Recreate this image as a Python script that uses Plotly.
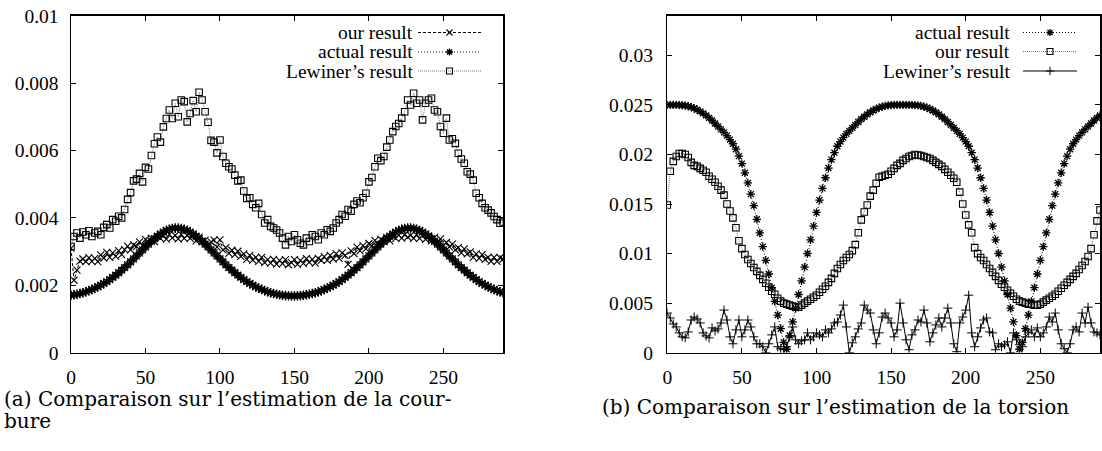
import plotly.graph_objects as go

# ---------------- data ----------------
x_left = list(range(0, 291, 2))
x_right = list(range(0, 291, 2))

x_tickvals = [0, 50, 100, 150, 200, 250]
x_ticktext = ["0", "50", "100", "150", "200", "250"]
yl_tickvals = [0, 0.002, 0.004, 0.006, 0.008, 0.01]
yl_ticktext = ["0", "0.002", "0.004", "0.006", "0.008", "0.01"]
yr_tickvals = [0, 0.005, 0.01, 0.015, 0.02, 0.025, 0.03]
yr_ticktext = ["0", "0.005", "0.01", "0.015", "0.02", "0.025", "0.03"]

# curvature (values in units of 1e-3)
kappa_actual_e3 = [
    1.705, 1.718, 1.735, 1.756, 1.779, 1.808, 1.840, 1.875, 1.914, 1.957,
    2.004, 2.055, 2.110, 2.169, 2.233, 2.300, 2.372, 2.448, 2.526, 2.609,
    2.694, 2.781, 2.870, 2.959, 3.049, 3.138, 3.224, 3.307, 3.385, 3.458,
    3.522, 3.579, 3.626, 3.662, 3.686, 3.698, 3.698, 3.686, 3.662, 3.626,
    3.579, 3.522, 3.458, 3.385, 3.307, 3.224, 3.138, 3.049, 2.959, 2.870,
    2.781, 2.694, 2.609, 2.526, 2.448, 2.372, 2.300, 2.233, 2.169, 2.110,
    2.055, 2.004, 1.957, 1.914, 1.875, 1.840, 1.808, 1.779, 1.756, 1.735,
    1.718, 1.705, 1.695, 1.688, 1.684, 1.684, 1.688, 1.695, 1.705, 1.718,
    1.735, 1.756, 1.779, 1.808, 1.840, 1.875, 1.914, 1.957, 2.004, 2.055,
    2.110, 2.169, 2.233, 2.300, 2.372, 2.448, 2.526, 2.609, 2.694, 2.781,
    2.870, 2.959, 3.049, 3.138, 3.224, 3.307, 3.385, 3.458, 3.522, 3.579,
    3.626, 3.662, 3.686, 3.698, 3.698, 3.686, 3.662, 3.626, 3.579, 3.522,
    3.458, 3.385, 3.307, 3.224, 3.138, 3.049, 2.959, 2.870, 2.781, 2.694,
    2.609, 2.526, 2.448, 2.372, 2.300, 2.233, 2.169, 2.110, 2.055, 2.004,
    1.957, 1.914, 1.875, 1.840, 1.808, 1.779,
]
kappa_ours_e3 = [
    3.10, 2.15, 2.45, 2.72, 2.78, 2.70, 2.82, 2.71, 2.80, 2.70,
    2.90, 2.81, 2.98, 2.83, 2.96, 2.86, 3.03, 2.91, 3.06, 3.16,
    3.05, 3.20, 3.15, 3.29, 3.18, 3.36, 3.28, 3.40, 3.30, 3.45,
    3.39, 3.47, 3.37, 3.51, 3.41, 3.48, 3.38, 3.51, 3.39, 3.48,
    3.39, 3.47, 3.32, 3.43, 3.29, 3.34, 3.21, 3.29, 3.34, 3.13,
    3.35, 3.05, 3.12, 2.95, 3.04, 2.91, 3.01, 2.86, 2.93, 2.77,
    2.89, 2.75, 2.83, 2.71, 2.83, 2.67, 2.76, 2.66, 2.77, 2.63,
    2.74, 2.64, 2.76, 2.61, 2.67, 2.76, 2.62, 2.74, 2.65, 2.79,
    2.68, 2.77, 2.66, 2.80, 2.74, 2.85, 2.74, 2.89, 2.78, 2.94,
    2.80, 2.96, 2.89, 2.62, 3.02, 2.94, 3.13, 3.02, 3.18, 3.08,
    3.24, 3.17, 3.33, 3.22, 3.37, 3.30, 3.42, 3.32, 3.46, 3.39,
    3.49, 3.40, 3.50, 3.43, 3.48, 3.39, 3.50, 3.39, 3.48, 3.36,
    3.46, 3.32, 3.42, 3.27, 3.38, 3.18, 3.27, 3.14, 3.22, 3.05,
    3.12, 2.96, 3.08, 2.93, 2.99, 2.83, 2.93, 2.80, 2.91, 2.77,
    2.83, 2.71, 2.83, 2.71, 2.82, 2.78,
]
kappa_lewiner_e3 = [
    3.15, 3.45, 3.55, 3.40, 3.58, 3.50, 3.62, 3.45, 3.55, 3.60,
    3.50, 3.72, 3.80, 3.70, 3.95, 3.90, 4.05, 4.00, 4.25, 4.55,
    4.75, 5.10, 5.15, 5.32, 5.07, 5.50, 5.45, 5.85, 6.20, 6.40,
    6.25, 6.70, 6.95, 7.20, 6.95, 7.40, 7.00, 7.50, 7.45, 6.85,
    7.10, 7.48, 7.15, 7.73, 7.50, 7.15, 6.84, 6.30, 6.25, 5.93,
    6.31, 5.82, 5.62, 5.52, 5.45, 5.27, 5.10, 5.12, 4.80, 4.58,
    4.60, 4.40, 4.30, 4.43, 4.10, 3.85, 3.95, 3.75, 3.70, 3.64,
    3.55, 3.40, 3.20, 3.45, 3.30, 3.50, 3.35, 3.25, 3.20, 3.40,
    3.30, 3.50, 3.45, 3.35, 3.55, 3.50, 3.65, 3.60, 3.70, 3.85,
    3.95, 4.10, 4.05, 4.25, 4.20, 4.40, 4.50, 4.45, 4.60, 4.73,
    5.07, 5.20, 5.52, 5.77, 5.70, 5.82, 6.10, 6.31, 6.56, 6.71,
    6.80, 6.96, 7.15, 7.50, 7.35, 7.70, 7.40, 7.50, 6.91, 7.40,
    7.50, 7.55, 7.20, 7.15, 6.71, 6.51, 6.96, 6.31, 6.35, 6.21,
    5.92, 5.75, 5.62, 5.37, 5.30, 5.12, 4.73, 4.60, 4.43, 4.30,
    4.23, 4.15, 4.04, 3.95, 3.84, 3.88,
]

# torsion (values in units of 1e-3)
tau_actual_e3 = [
    25.00, 25.00, 25.00, 25.00, 24.99, 24.96, 24.93, 24.86, 24.78, 24.66,
    24.51, 24.35, 24.15, 23.94, 23.69, 23.43, 23.13, 22.83, 22.53, 22.23,
    21.90, 21.50, 21.08, 20.53, 19.83, 19.08, 18.15, 17.13, 16.00, 14.84,
    13.46, 12.08, 10.70, 9.32, 7.94, 6.56, 5.18, 3.80, 2.42, 1.04,
    0.35, 1.73, 3.11, 4.49, 5.87, 7.25, 8.63, 10.01, 11.39, 12.77,
    14.15, 15.40, 16.58, 17.65, 18.63, 19.48, 20.18, 20.83, 21.30, 21.70,
    22.08, 22.38, 22.68, 22.98, 23.28, 23.56, 23.81, 24.05, 24.25, 24.44,
    24.59, 24.73, 24.82, 24.90, 24.95, 24.98, 25.00, 25.00, 25.00, 25.00,
    25.00, 25.00, 25.00, 24.98, 24.95, 24.90, 24.82, 24.73, 24.59, 24.44,
    24.25, 24.05, 23.81, 23.56, 23.28, 22.98, 22.68, 22.38, 22.08, 21.70,
    21.30, 20.83, 20.18, 19.48, 18.63, 17.65, 16.58, 15.40, 14.15, 12.77,
    11.39, 10.01, 8.63, 7.25, 5.87, 4.49, 3.11, 1.73, 0.35, 1.04,
    2.42, 3.80, 5.18, 6.56, 7.94, 9.32, 10.70, 12.08, 13.46, 14.84,
    16.00, 17.13, 18.15, 19.08, 19.83, 20.53, 21.08, 21.50, 21.90, 22.23,
    22.53, 22.83, 23.13, 23.43, 23.69, 23.94,
]
tau_ours_e3 = [
    14.9, 18.3, 19.3, 19.8, 20.1, 20.1, 20.0, 19.7, 19.2, 18.9,
    18.8, 18.6, 18.4, 18.2, 17.8, 17.5, 17.2, 16.8, 16.4, 15.9,
    15.0, 14.3, 13.6, 12.6, 11.3, 10.5, 9.9, 9.4, 9.0, 8.6,
    8.2, 7.8, 7.4, 7.0, 6.6, 6.2, 5.9, 5.5, 5.2, 5.0,
    4.9, 4.8, 4.7, 4.6, 4.6, 4.8, 5.0, 5.2, 5.4, 5.6,
    5.8, 6.1, 6.4, 6.7, 7.1, 7.5, 8.0, 8.5, 8.9, 9.3,
    9.6, 9.9, 10.3, 10.9, 12.1, 13.4, 14.2, 14.9, 15.8, 16.4,
    17.1, 17.7, 17.8, 17.9, 18.0, 18.3, 18.6, 18.9, 19.1, 19.4,
    19.6, 19.8, 19.9, 20.0, 19.95, 19.9, 19.8, 19.7, 19.6, 19.4,
    19.2, 19.0, 18.8, 18.5, 18.2, 17.9, 17.6, 17.2, 16.2, 15.0,
    13.9, 12.9, 12.1, 10.6, 10.0, 9.6, 9.3, 8.9, 8.5, 8.1,
    7.7, 7.3, 6.9, 6.6, 6.3, 6.0, 5.7, 5.4, 5.2, 5.1,
    5.0, 4.9, 4.9, 4.8, 4.8, 4.9, 5.1, 5.3, 5.5, 5.7,
    5.9, 6.2, 6.5, 6.8, 7.1, 7.4, 7.7, 8.0, 8.4, 8.8,
    9.2, 9.7, 10.5, 11.9, 13.3, 14.4,
]
tau_lewiner_e3 = [
    4.0, 3.5, 2.9, 2.6, 2.0, 1.6, 1.5, 2.1, 3.3, 3.6,
    3.4, 3.0, 2.0, 1.7, 1.5, 2.5, 2.2, 2.4, 3.0, 4.3,
    3.3, 1.6, 0.9, 2.3, 3.3, 1.6, 2.3, 3.3, 2.6, 1.6,
    0.9, 0.9, 0.6, 0.0, 0.9, 1.8, 2.6, 0.6, 0.4, 0.3,
    0.6, 1.6, 2.6, 1.3, 0.9, 1.2, 1.3, 2.0, 1.3, 1.6,
    2.0, 1.8, 1.6, 2.3, 2.0, 2.4, 3.0, 3.1, 3.8, 4.8,
    2.6, 0.0, 1.0, 1.6, 2.4, 3.0, 4.8, 4.3, 4.0, 2.3,
    0.9, 2.0, 3.6, 4.0, 3.5, 3.0, 1.6, 2.3, 5.0, 3.0,
    1.3, 0.3, 1.8, 2.3, 3.3, 3.1, 4.3, 3.0, 1.1, 2.0,
    2.8, 3.5, 2.6, 3.5, 4.5, 3.0, 0.9, 0.1, 3.0, 3.6,
    4.3, 5.8, 2.0, 0.6, 1.6, 2.5, 3.3, 3.5, 2.1, 2.0,
    0.3, 0.9, 0.6, 0.8, 1.1, 0.0, 2.0, 1.3, 0.8, 0.6,
    1.6, 2.0, 2.3, 1.6, 2.5, 1.6, 2.0, 2.6, 3.6, 3.1,
    4.0, 2.3, 0.9, 0.4, 0.0, 0.9, 2.3, 2.6, 2.1, 4.0,
    3.0, 4.6, 3.0, 2.1, 2.0, 1.8,
]


def unit(vals):
    return [v * 1e-3 for v in vals]


kappa_actual = unit(kappa_actual_e3)
kappa_ours = unit(kappa_ours_e3)
kappa_lewiner = unit(kappa_lewiner_e3)
tau_actual = unit(tau_actual_e3)
tau_ours = unit(tau_ours_e3)
tau_lewiner = unit(tau_lewiner_e3)

legend_left = ["our result", "actual result", "Lewiner\u2019s result"]
legend_right = ["actual result", "our result", "Lewiner\u2019s result"]
caption_a1 = "(a) Comparaison sur l\u2019estimation de la cour-"
caption_a2 = "bure"
caption_b = "(b) Comparaison sur l\u2019estimation de la torsion"

# ---------------- styles ----------------
W, H = 1102, 451
TICKFONT = dict(family="Liberation Serif", size=19.5, color="black")
CAPFONT = dict(family="DejaVu Serif", size=20, color="black")

st_x = dict(line=dict(color="black", width=1, dash="3px,2px"),
            marker=dict(symbol="x-thin", size=7, color="black",
                        line=dict(color="black", width=1.1)))
st_ast_l = dict(line=dict(color="black", width=1, dash="1px,2px"),
                marker=dict(symbol="asterisk-open", size=8, color="black",
                            line=dict(color="black", width=1.4)))
st_ast_r = dict(line=dict(color="black", width=1, dash="1px,2px"),
                marker=dict(symbol="asterisk-open", size=7, color="black",
                            line=dict(color="black", width=1.3)))
st_sq = dict(line=dict(color="#777777", width=1, dash="1px,1px"),
             marker=dict(symbol="square-open", size=6.5, color="black",
                         line=dict(color="black", width=1.1)))
st_plus = dict(line=dict(color="black", width=1),
               marker=dict(symbol="cross-thin-open", size=6.5, color="black",
                           line=dict(color="black", width=1)))

fig = go.Figure()


def add(x, y, st, xa, ya):
    fig.add_trace(go.Scatter(x=x, y=y, mode="lines+markers", xaxis=xa, yaxis=ya,
                             showlegend=False, hoverinfo="skip", **st))


add(x_left, kappa_ours, st_x, "x", "y")
add(x_left, kappa_actual, st_ast_l, "x", "y")
add(x_left, kappa_lewiner, st_sq, "x", "y")

add(x_right, tau_actual, st_ast_r, "x2", "y2")
add(x_right, tau_ours, st_sq, "x2", "y2")
add(x_right, tau_lewiner, st_plus, "x2", "y2")


# ---------- legend samples (gnuplot style: text left, sample right) ----------
def legend(labels, styles, text_right, line_x0, line_x1, rows):
    for lab, st, yy in zip(labels, styles, rows):
        fig.add_annotation(x=text_right / W, y=1 - yy / H, xref="paper", yref="paper",
                           text=lab, showarrow=False, xanchor="right", yanchor="middle",
                           font=TICKFONT)
        fig.add_trace(go.Scatter(x=[line_x0, line_x1], y=[yy, yy], mode="lines",
                                 line=st["line"], xaxis="x3", yaxis="y3",
                                 showlegend=False, hoverinfo="skip"))
        mk = dict(st["marker"])
        mk["size"] = 6
        fig.add_trace(go.Scatter(x=[(line_x0 + line_x1) / 2], y=[yy], mode="markers",
                                 marker=mk, xaxis="x3", yaxis="y3",
                                 showlegend=False, hoverinfo="skip"))


legend(legend_left, [st_x, st_ast_l, st_sq], 415, 418, 481, [32.5, 52, 71])
legend(legend_right, [st_ast_r, st_sq, st_plus], 1012, 1023, 1077, [32.5, 51.5, 71])

# ---------------- captions ----------------
fig.add_annotation(x=2 / W, y=1 - 399 / H, xref="paper", yref="paper", text=caption_a1,
                   showarrow=False, xanchor="left", yanchor="middle", font=CAPFONT)
fig.add_annotation(x=2 / W, y=1 - 421 / H, xref="paper", yref="paper", text=caption_a2,
                   showarrow=False, xanchor="left", yanchor="middle", font=CAPFONT)
fig.add_annotation(x=600 / W, y=1 - 407 / H, xref="paper", yref="paper", text=caption_b,
                   showarrow=False, xanchor="left", yanchor="middle", font=CAPFONT)

# ---------------- axes ----------------
ydom = [1 - 352.7 / H, 1 - 15.7 / H]
axis_common = dict(showline=True, linecolor="black", linewidth=1.5, mirror="ticks",
                   ticks="inside", ticklen=5, tickwidth=1, tickcolor="black",
                   showgrid=False, zeroline=False, tickfont=TICKFONT, automargin=False)

fig.update_layout(
    width=W, height=H, margin=dict(l=0, r=0, t=0, b=0, pad=0), autosize=False,
    paper_bgcolor="white", plot_bgcolor="rgba(0,0,0,0)",
    xaxis=dict(domain=[71 / W, 503 / W], range=[0, 290], anchor="y",
               tickvals=x_tickvals, ticktext=x_ticktext, ticklabelstandoff=6, **axis_common),
    yaxis=dict(domain=ydom, range=[0, 0.01], anchor="x",
               tickvals=yl_tickvals, ticktext=yl_ticktext, ticklabelstandoff=7, **axis_common),
    xaxis2=dict(domain=[667.3 / W, 1100 / W], range=[0, 290], anchor="y2",
                tickvals=x_tickvals, ticktext=x_ticktext, ticklabelstandoff=6, **axis_common),
    yaxis2=dict(domain=ydom, range=[0, 0.034], anchor="x2",
                tickvals=yr_tickvals, ticktext=yr_ticktext, ticklabelstandoff=9, **axis_common),
    xaxis3=dict(domain=[0, 1], range=[0, W], anchor="y3", visible=False,
                fixedrange=True, automargin=False),
    yaxis3=dict(domain=[0, 1], range=[H, 0], anchor="x3", visible=False,
                fixedrange=True, automargin=False),
)

fig.write_html("out.html",
               config={"displayModeBar": False, "staticPlot": True},
               post_script="document.body.style.margin='0';document.body.style.padding='0';"
                           "document.documentElement.style.overflow='hidden';")
